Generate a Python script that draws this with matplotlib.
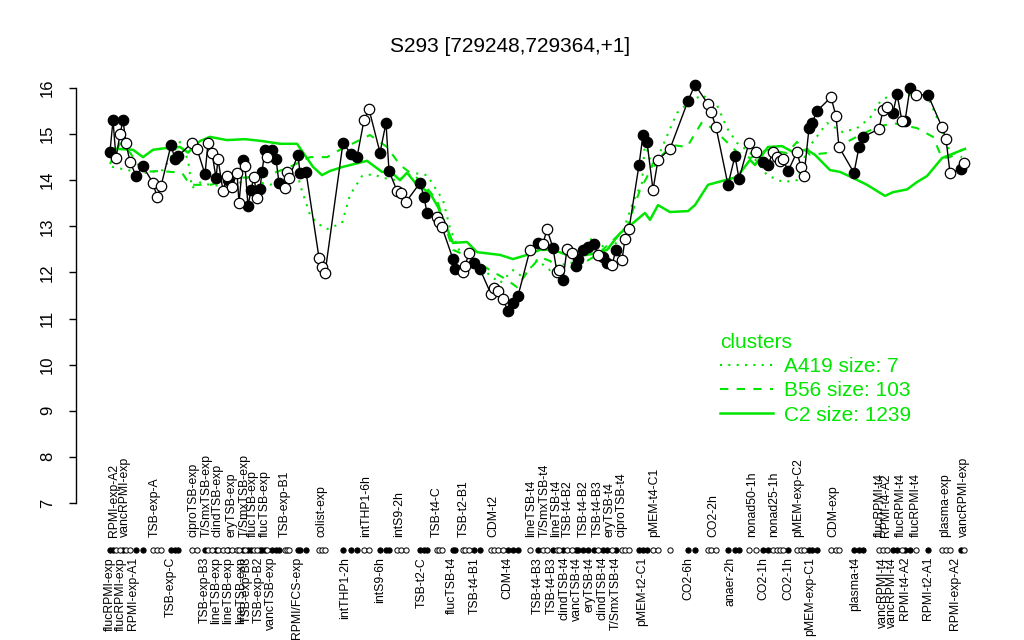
import numpy as np
import matplotlib.pyplot as plt
from matplotlib.lines import Line2D
from matplotlib.transforms import blended_transform_factory

plt.rcParams['font.family'] = ['Liberation Sans', 'DejaVu Sans']

title = "S293 [729248,729364,+1]"

# sample positions (arbitrary x units), expression values, filled marker (1) or open (0)
pos = [0, 3, 6, 10, 13, 16, 20, 26, 33, 43, 47, 51, 61, 65, 68, 82, 87,
       95, 98, 102, 106, 108, 113, 117, 118, 122, 127, 129, 133, 135, 138, 141,
       144, 147, 150, 152, 155, 157, 162, 166, 169, 175, 177, 179, 188, 190, 196,
       209, 212, 215, 233, 241, 247, 254, 259, 270, 276, 279, 287, 291, 296,
       310, 314, 317, 327, 329, 332, 343, 345, 353, 355, 359, 364, 370,
       381, 384, 388, 393, 398, 403, 408,
       420, 428, 433, 437, 443, 447, 449, 453, 457, 462, 466, 468, 473, 478, 484,
       488, 493, 497, 502, 506, 512, 515, 519,
       529, 533, 537, 543, 548, 560, 578, 585, 598, 601, 606, 618, 625, 629,
       639, 646, 653, 658, 663, 667, 670, 673, 678, 687, 691, 694, 699, 702, 707,
       721, 726, 729, 744, 749, 753,
       769, 773, 777, 783, 787, 792, 795, 800, 806, 818, 832, 836, 840, 851, 854]
expr = [14.62, 15.30, 14.48, 15.00, 15.30, 14.80, 14.40, 14.10, 14.30, 13.94, 13.64, 13.87,
        14.76, 14.46, 14.52, 14.81, 14.68,
        14.13, 14.81, 14.59, 14.05, 14.46, 13.77, 14.09, 14.00, 13.85, 14.16, 13.51, 14.44,
        14.31, 13.44, 13.79, 14.07, 13.61, 13.81, 14.18, 14.66, 14.50, 14.66, 14.46, 13.94,
        13.83, 14.18, 14.05, 14.55, 14.16, 14.18,
        12.32, 12.12, 11.98, 14.81, 14.57, 14.50, 15.30, 15.54, 14.60, 15.24, 14.20,
        13.77, 13.72, 13.53,
        13.94, 13.64, 13.29, 13.20, 13.10, 12.98, 12.29, 12.07, 12.00, 12.14, 12.42, 12.20, 12.07,
        11.53, 11.66, 11.60, 11.42, 11.16, 11.34, 11.49,
        12.49, 12.64, 12.62, 12.94, 12.53, 12.00, 12.05, 11.84, 12.51, 12.42, 12.14, 12.29,
        12.49, 12.55, 12.62,
        12.38, 12.33, 12.20, 12.16, 12.49, 12.27, 12.72, 12.94,
        14.33, 14.98, 14.83, 13.79, 14.44, 14.68, 15.72, 16.07, 15.65, 15.48, 15.15,
        13.90, 14.53, 14.03,
        14.81, 14.61, 14.39, 14.33, 14.61, 14.50, 14.42, 14.46, 14.20, 14.61, 14.29, 14.09,
        15.13, 15.24, 15.50,
        15.80, 15.39, 14.72, 14.16, 14.72, 14.94,
        15.11, 15.52, 15.59, 15.46, 15.87, 15.28, 15.28, 16.00, 15.85, 15.85, 15.15, 14.89,
        14.16, 14.24, 14.37]
filled = [1, 1, 0, 0, 1, 0, 0, 1, 1, 0, 0, 0, 1, 1, 1, 0, 0,
          1, 0, 0, 1, 0, 0, 0, 1, 0, 0, 0, 1, 0, 1, 1,
          0, 0, 1, 1, 1, 0, 1, 1, 1, 0, 0, 0, 1, 1, 1,
          0, 0, 0, 1, 1, 1, 0, 0, 1, 1, 1, 0, 0, 0,
          1, 1, 1, 0, 0, 0, 1, 1, 0, 0, 0, 1, 1,
          0, 0, 0, 0, 1, 1, 1,
          0, 1, 0, 0, 1, 0, 0, 1, 0, 0, 1, 1, 1, 1, 1,
          0, 1, 1, 0, 1, 0, 0, 0,
          1, 1, 1, 0, 0, 0, 1, 1, 0, 0, 0, 1, 1, 1,
          0, 0, 1, 1, 0, 0, 0, 0, 1, 0, 0, 0, 1, 1, 1,
          0, 0, 0, 1, 1, 1,
          0, 0, 0, 1, 1, 0, 1, 1, 0, 1, 0, 0, 0, 1, 0]

# cluster profiles
a419_pos = [2, 33, 53, 70, 78, 82, 90, 100, 123, 137, 150, 160, 177, 187, 190, 200, 207,
            217, 232, 240, 252, 263, 273, 287, 303, 317, 333, 340, 350, 363, 377, 390,
            403, 413, 427, 440, 450, 470, 482, 497, 510, 523, 532, 535, 543, 550, 567,
            578, 592, 607, 617, 627, 640, 657, 673, 687, 697, 717, 733, 747, 760, 770,
            783, 797, 817, 827, 840, 852]
a419_val = [14.29, 14.15, 14.22, 14.83, 14.44, 13.83, 13.95, 13.90, 13.85, 14.05, 13.95,
            13.90, 14.05, 14.22, 13.90, 13.25, 13.07, 12.94, 13.07, 13.68, 14.09, 14.13,
            14.05, 14.00, 14.16, 14.11, 13.57, 12.96, 12.44, 12.42, 11.99, 11.77, 12.05,
            11.90, 12.27, 12.05, 12.20, 12.05, 12.77, 12.49, 12.70, 13.53, 13.94, 14.83,
            14.22, 14.61, 15.46, 15.67, 15.85, 15.63, 15.13, 14.81, 14.60, 14.11, 13.96,
            14.00, 14.66, 15.24, 15.04, 15.13, 15.35, 15.70, 15.89, 15.85, 15.85, 15.35,
            14.61, 14.50]
b56_pos = [0, 10, 20, 33, 50, 72, 80, 100, 130, 157, 180, 200, 217, 230, 260, 277, 290,
           310, 327, 343, 360, 380, 397, 407, 417, 430, 440, 450, 457, 477, 487, 503, 517,
           530, 537, 543, 563, 577, 592, 602, 613, 627, 640, 657, 677, 687, 700, 717, 737,
           750, 767, 783, 807, 823, 832, 840, 852]
b56_val = [14.35, 14.80, 14.60, 14.18, 14.20, 14.16, 13.90, 13.90, 14.05, 14.10, 14.29,
           14.50, 14.50, 14.66, 14.98, 14.72, 14.33, 14.00, 13.57, 12.49, 12.33, 12.05,
           11.84, 11.68, 12.00, 12.33, 12.25, 12.05, 12.20, 12.25, 12.38, 12.70, 12.98,
           13.79, 14.07, 14.37, 14.76, 14.72, 15.26, 15.13, 14.91, 14.61, 14.48, 14.66,
           14.59, 14.83, 14.55, 14.59, 14.83, 14.98, 15.15, 15.24, 15.13, 14.94, 14.48,
           14.50, 14.66]
c2_pos = [0, 7, 23, 33, 43, 57, 70, 78, 90, 100, 117, 135, 152, 170, 187, 203, 212, 220,
          233, 257, 272, 282, 290, 297, 307, 320, 328, 343, 357, 367, 390, 403, 417, 430,
          443, 457, 477, 490, 497, 510, 523, 535, 540, 548, 560, 578, 585, 598, 615, 627,
          640, 645, 658, 672, 683, 697, 705, 720, 730, 743, 757, 775, 783, 797, 807, 817,
          832, 840, 855]
c2_val = [14.68, 14.68, 14.66, 14.50, 14.66, 14.70, 14.72, 14.60, 14.85, 14.94, 14.87,
          14.89, 14.85, 14.79, 14.79, 14.29, 14.11, 14.20, 14.29, 14.42, 14.18, 14.16,
          14.00, 14.16, 13.90, 13.72, 13.42, 12.64, 12.66, 12.44, 12.38, 12.29, 12.38,
          12.49, 12.49, 12.38, 12.38, 12.44, 12.49, 12.85, 13.07, 13.29, 13.14, 13.46,
          13.31, 13.33, 13.46, 13.90, 14.00, 14.07, 14.44, 14.33, 14.72, 14.74, 14.61,
          14.66, 14.55, 14.22, 14.18, 14.05, 13.90, 13.66, 13.74, 13.80, 13.96, 14.09,
          14.48, 14.55, 14.68]
cluster_names = ["A419 size: 7", "B56 size: 103", "C2 size: 1239"]

top_labels = ["RPMI-exp-A2", "vancRPMI-exp", "TSB-exp-A", "ciproTSB-exp", "T/SmxTSB-exp",
              "clindTSB-exp", "eryTSB-exp", "T/SmxTSB-exp", "flucTSB-exp", "flucTSB-exp",
              "TSB-exp-B1", "colist-exp", "intTHP1-6h", "intS9-2h", "TSB-t4-C", "TSB-t2-B1",
              "CDM-t2", "lineTSB-t4", "T/SmxTSB-t4", "lineTSB-t4", "TSB-t4-B2", "TSB-t4-B2",
              "TSB-t4-B3", "eryTSB-t4", "ciproTSB-t4", "pMEM-t4-C1", "CO2-2h", "nonad50-1h",
              "nonad25-1h", "pMEM-exp-C2", "CDM-exp", "flucRPMI-t4", "RPMI-t4-A2",
              "flucRPMI-t4", "flucRPMI-t4", "plasma-exp", "vancRPMI-exp"]
top_pos = [4, 15, 45, 83, 97, 108, 122, 135, 143, 155, 175, 211, 256, 289, 327, 354, 383,
           421, 435, 446, 458, 474, 488, 500, 512, 544, 603, 642, 664, 688, 723, 770, 776,
           791, 806, 835, 854]
bottom_labels = ["flucRPMI-exp", "flucRPMI-exp", "RPMI-exp-A1", "TSB-exp-C", "TSB-exp-B3",
                 "lineTSB-exp", "lineTSB-exp", "lineTSB-exp", "TSB-exp-B3", "TSB-exp-B2",
                 "vancTSB-exp", "RPMI/FCS-exp", "intTHP1-2h", "intS9-6h", "TSB-t2-C",
                 "flucTSB-t4", "TSB-t4-B1", "CDM-t4", "TSB-t4-B3", "TSB-t4-B3", "clindTSB-t4",
                 "vancTSB-t4", "eryTSB-t4", "clindTSB-t4", "T/SmxTSB-t4", "pMEM-t2-C1",
                 "CO2-6h", "anaer-2h", "CO2-1h", "CO2-1h", "pMEM-exp-C1", "plasma-t4",
                 "vancRPMI-t4", "vancRPMI-t4", "RPMI-t4-A2", "RPMI-t2-A1", "RPMI-exp-A2"]
bottom_pos = [0, 11, 23, 61, 95, 106, 118, 131, 137, 149, 161, 187, 235, 270, 312, 342, 365,
              397, 428, 442, 454, 467, 480, 493, 506, 532, 578, 620, 653, 678, 700, 745, 773,
              782, 795, 818, 845]

green = "#00e600"

fig = plt.figure(figsize=(10.24, 6.4), dpi=100)
ax = fig.add_axes([76 / 1024, 1 - 520 / 640, 923 / 1024, 450 / 640])
ax.set_xlim(-34, 889)
ax.set_ylim(6.631, 16.39)

ax.plot(a419_pos, a419_val, color=green, lw=1.5, dashes=(1, 3), zorder=1)
ax.plot(b56_pos, b56_val, color=green, lw=1.5, dashes=(4, 4), zorder=1)
ax.plot(c2_pos, c2_val, color=green, lw=1.8, zorder=1)
ax.plot(pos, expr, color="black", lw=1.0, zorder=2)

pos = np.array(pos)
expr = np.array(expr)
fl = np.array(filled) == 1
ax.plot(pos[fl], expr[fl], "o", ms=7.5, mfc="black", mec="black", mew=0.9, zorder=3)
ax.plot(pos[~fl], expr[~fl], "o", ms=7.5, mfc="white", mec="black", mew=0.9, zorder=3)

# strip of sample markers below the plot
tr = blended_transform_factory(ax.transData, fig.transFigure)
strip_y = 1 - 550 / 640
ax.plot(pos[fl], np.full(fl.sum(), strip_y), "o", ms=3.8, mfc="black", mec="black",
        mew=0.7, transform=tr, clip_on=False)
ax.plot(pos[~fl], np.full((~fl).sum(), strip_y), "o", ms=3.8, mfc="white", mec="black",
        mew=0.7, transform=tr, clip_on=False)

for lab, x in zip(top_labels, top_pos):
    ax.text(x, 1 - 537 / 640, lab, rotation=90, ha="center", va="bottom", fontsize=8.8,
            transform=tr, clip_on=False)
for lab, x in zip(bottom_labels, bottom_pos):
    ax.text(x, 1 - 557 / 640, lab, rotation=90, ha="center", va="top", fontsize=8.8,
            transform=tr, clip_on=False)

for s in ["top", "right", "bottom"]:
    ax.spines[s].set_visible(False)
ax.spines["left"].set_bounds(7, 16)
ax.spines["left"].set_linewidth(1.0)
ax.set_xticks([])
ax.set_yticks(range(7, 17))
ax.tick_params(axis="y", labelsize=12, length=5, width=1, pad=10, labelrotation=90)
for t in ax.get_yticklabels():
    t.set_va("center")

handles = [Line2D([], [], color=green, lw=1.5, dashes=(1, 3)),
           Line2D([], [], color=green, lw=1.5, dashes=(4, 4)),
           Line2D([], [], color=green, lw=1.8)]
leg = ax.legend(handles, cluster_names, title="clusters", loc="upper left",
                bbox_to_anchor=(720 / 1024, 1 - 333 / 640), bbox_transform=fig.transFigure,
                frameon=False, fontsize=15, title_fontsize=15, handlelength=2.55,
                handletextpad=0.5, labelspacing=0.25, borderaxespad=0, borderpad=0,
                alignment="left")
for t in leg.get_texts():
    t.set_color(green)
leg.get_title().set_color(green)

fig.text(510 / 1024, 1 - 47 / 640, title, ha="center", va="center", fontsize=15)

fig.savefig("out.png", dpi=100)
